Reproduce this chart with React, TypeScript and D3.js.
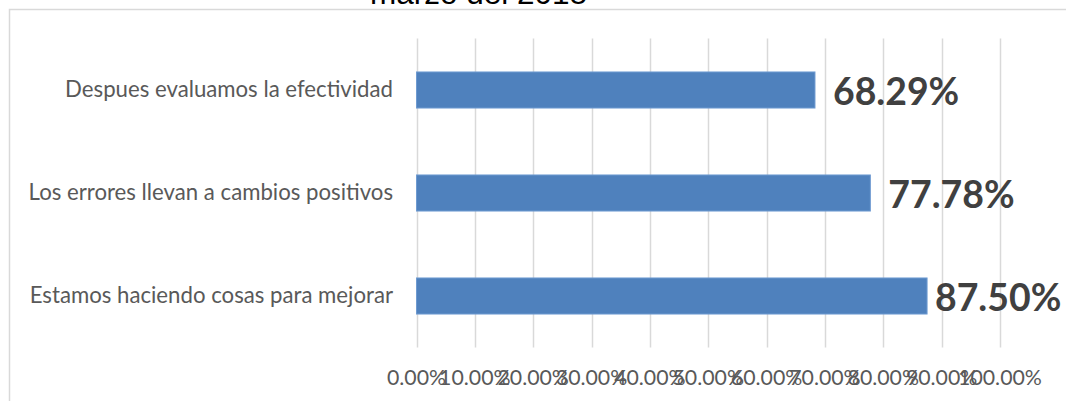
import React from "react";
import * as d3 from "d3";

// Survey results (share of respondents agreeing), bottom to top as drawn
const categories = [
  "Despues evaluamos la efectividad",
  "Los errores llevan a cambios positivos",
  "Estamos haciendo cosas para mejorar",
];
const values = [0.6829, 0.7778, 0.875];
const tickValues = [0, 0.1, 0.2, 0.3, 0.4, 0.5, 0.6, 0.7, 0.8, 0.9, 1.0];
const titleTail = "marzo del 2018";

const W = 1066;
const H = 401;
const plot = { left: 416.5, right: 1000, top: 38.5, bottom: 347.5 };
const fmt = d3.format(".2%");

export default function App() {
  const x = d3.scaleLinear().domain([0, 1]).range([plot.left, plot.right]);
  const y = d3
    .scaleBand<string>()
    .domain(categories)
    .range([plot.top, plot.bottom])
    .paddingInner(0.65)
    .paddingOuter(0.325);

  const labelWidth = 126;
  const labelLimit = 1061;

  return (
    <svg
      width={W}
      height={H}
      style={{ position: "fixed", left: 0, top: 0, background: "#fff" }}
    >
      <rect x={9.5} y={9.5} width={1100} height={420} fill="#fff" stroke="#d9d9d9" strokeWidth={1.5} />
      <text
        x={370}
        y={3.5}
        fontFamily="'Liberation Sans', Arial, sans-serif"
        fontSize={31.5}
        fill="#000"
      >
        {titleTail}
      </text>

      {tickValues.map((t) => (
        <line
          key={"g" + t}
          x1={Math.round(x(t)) + 0.5}
          x2={Math.round(x(t)) + 0.5}
          y1={plot.top}
          y2={plot.bottom}
          stroke="#d9d9d9"
          strokeWidth={1.5}
        />
      ))}

      {categories.map((c, i) => {
        const yy = y(c)!;
        const bw = y.bandwidth();
        const end = x(values[i]);
        const lx = Math.min(end + 18, labelLimit - labelWidth);
        return (
          <g key={c}>
            <rect
              x={x(0)}
              y={yy}
              width={end - x(0)}
              height={bw}
              fill="#4f81bd"
              stroke="#6f9bd1"
              strokeWidth={1}
            />
            <text
              x={393}
              y={yy + bw / 2 + 7.3}
              textAnchor="end"
              fontFamily="Lato, sans-serif"
              fontSize={22.2}
              fill="#595959"
            >
              {c}
            </text>
            <text
              x={lx}
              y={yy + bw / 2 + 14.5}
              fontFamily="Lato, sans-serif"
              fontWeight="bold"
              fontSize={37.4}
              fill="#404040"
            >
              {fmt(values[i])}
            </text>
          </g>
        );
      })}

      {tickValues.map((t) => (
        <text
          key={"t" + t}
          x={x(t)}
          y={385}
          textAnchor="middle"
          fontFamily="Lato, sans-serif"
          fontSize={21.3}
          fill="#595959"
        >
          {fmt(t)}
        </text>
      ))}
    </svg>
  );
}
